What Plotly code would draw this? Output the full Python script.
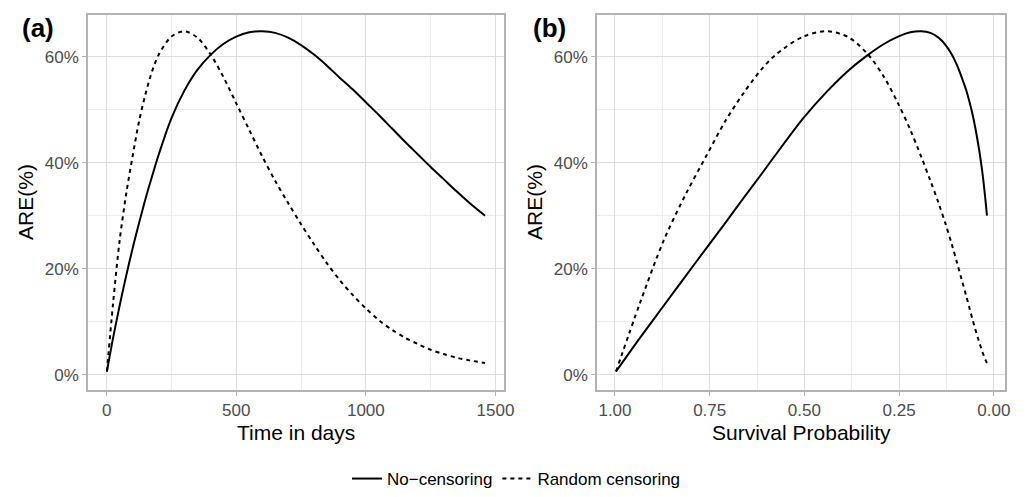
import plotly.graph_objects as go

# ---- data ----
time_days = [1, 25, 50, 75, 100, 125, 150, 175, 200, 250, 300, 350, 400, 450, 500, 550,
             600, 650, 700, 750, 800, 850, 900, 950, 1000, 1050, 1100, 1150, 1200, 1250,
             1300, 1350, 1400, 1460]
surv_prob = [0.9973, 0.9336, 0.8715, 0.8136, 0.7596, 0.7091, 0.6620, 0.6180, 0.5769,
             0.5028, 0.4382, 0.3820, 0.3329, 0.2901, 0.2528, 0.2204, 0.1920, 0.1674,
             0.1459, 0.1271, 0.1108, 0.0966, 0.0842, 0.0733, 0.0639, 0.0557, 0.0486,
             0.0423, 0.0369, 0.0321, 0.0280, 0.0244, 0.0213, 0.0180]
are_no_cens = [0.6, 7.0, 13.0, 18.6, 23.8, 28.6, 33.2, 37.4, 41.4, 48.4, 53.6, 57.5, 60.3,
               62.4, 63.8, 64.6, 64.8, 64.5, 63.6, 62.2, 60.4, 58.3, 56.0, 53.8, 51.4,
               49.0, 46.5, 44.0, 41.6, 39.2, 36.9, 34.6, 32.4, 30.0]
are_random = [0.6, 13.6, 25.3, 34.0, 41.2, 47.8, 53.0, 57.2, 60.3, 63.8, 64.8, 63.6, 60.5,
              56.2, 51.2, 46.2, 41.2, 36.6, 32.4, 28.4, 24.6, 21.0, 17.8, 15.0, 12.5,
              10.3, 8.5, 7.0, 5.8, 4.7, 3.9, 3.2, 2.7, 2.2]
series_names = ["No\u2212censoring", "Random censoring"]
x_ticks_a = [0, 500, 1000, 1500]
x_ticklabels_a = ["0", "500", "1000", "1500"]
x_ticks_b = [1.00, 0.75, 0.50, 0.25, 0.00]
x_ticklabels_b = ["1.00", "0.75", "0.50", "0.25", "0.00"]
y_ticks = [0, 20, 40, 60]
y_ticklabels = ["0%", "20%", "40%", "60%"]

W, H = 1033, 497
FONT = "Liberation Sans, Arial, sans-serif"

fig = go.Figure()
dashes = ["solid", "4px,4px"]
for i, (name, vals) in enumerate(zip(series_names, [are_no_cens, are_random])):
    fig.add_trace(go.Scatter(x=time_days, y=vals, mode="lines", name=name,
                             line=dict(color="black", width=2, dash=dashes[i],
                                       shape="spline", smoothing=0.9),
                             xaxis="x", yaxis="y", legendgroup=name, showlegend=True))
    fig.add_trace(go.Scatter(x=surv_prob, y=vals, mode="lines", name=name,
                             line=dict(color="black", width=2, dash=dashes[i],
                                       shape="spline", smoothing=0.9),
                             xaxis="x2", yaxis="y2", legendgroup=name, showlegend=False))

def px_x(p):
    return p / W

def px_y(p):
    return 1 - p / H

axis_common = dict(showline=True, mirror=True, linecolor="#b3b3b3", linewidth=1.5,
                   ticks="outside", ticklen=4, tickwidth=1, tickcolor="#b3b3b3",
                   showgrid=True, gridcolor="#dedede", gridwidth=1, zeroline=False,
                   tickfont=dict(family=FONT, size=17, color="#4d4d4d"), automargin=False)

fig.update_layout(
    width=W, height=H,
    margin=dict(l=0, r=0, t=0, b=0),
    paper_bgcolor="white", plot_bgcolor="white",
    font=dict(family=FONT, color="black"),
    xaxis=dict(domain=[px_x(88), px_x(504)], range=[-72, 1533], tickmode="array",
               tickvals=x_ticks_a, ticktext=x_ticklabels_a, anchor="y",
               minor=dict(showgrid=True, gridcolor="#ececec", dtick=250, tick0=0, ticks=""),
               **axis_common),
    yaxis=dict(domain=[px_y(394), px_y(15)], range=[-2.9, 67.9], tickmode="array",
               tickvals=y_ticks, ticktext=y_ticklabels, anchor="x",
               minor=dict(showgrid=True, gridcolor="#ececec", dtick=10, tick0=0, ticks=""),
               **axis_common),
    xaxis2=dict(domain=[px_x(597), px_x(1005)], range=[1.0475, -0.0296], tickmode="array",
                tickvals=x_ticks_b, ticktext=x_ticklabels_b, anchor="y2",
                minor=dict(showgrid=True, gridcolor="#ececec", dtick=0.125, tick0=0, ticks=""),
                **axis_common),
    yaxis2=dict(domain=[px_y(394), px_y(15)], range=[-2.9, 67.9], tickmode="array",
                tickvals=y_ticks, ticktext=y_ticklabels, anchor="x2",
                minor=dict(showgrid=True, gridcolor="#ececec", dtick=10, tick0=0, ticks=""),
                **axis_common),
    legend=dict(orientation="h", x=0.5, xanchor="center", y=px_y(484), yanchor="middle",
                font=dict(family=FONT, size=17, color="black"), bgcolor="rgba(0,0,0,0)",
                itemwidth=30),
    showlegend=True,
)

annots = [
    dict(text="<b>(a)</b>", x=px_x(20), y=px_y(28), xanchor="left", yanchor="middle",
         font=dict(family=FONT, size=26, color="black")),
    dict(text="<b>(b)</b>", x=px_x(531), y=px_y(28), xanchor="left", yanchor="middle",
         font=dict(family=FONT, size=26, color="black")),
    dict(text="Time in days", x=px_x(296), y=px_y(437), xanchor="center", yanchor="middle",
         font=dict(family=FONT, size=21, color="black")),
    dict(text="Survival Probability", x=px_x(801), y=px_y(437), xanchor="center", yanchor="middle",
         font=dict(family=FONT, size=21, color="black")),
    dict(text="ARE(%)", x=px_x(26), y=px_y(204), xanchor="center", yanchor="middle", textangle=-90,
         font=dict(family=FONT, size=21, color="black")),
    dict(text="ARE(%)", x=px_x(535), y=px_y(204), xanchor="center", yanchor="middle", textangle=-90,
         font=dict(family=FONT, size=21, color="black")),
]
for a in annots:
    fig.add_annotation(xref="paper", yref="paper", showarrow=False, **a)

fig.write_html("out.html")
